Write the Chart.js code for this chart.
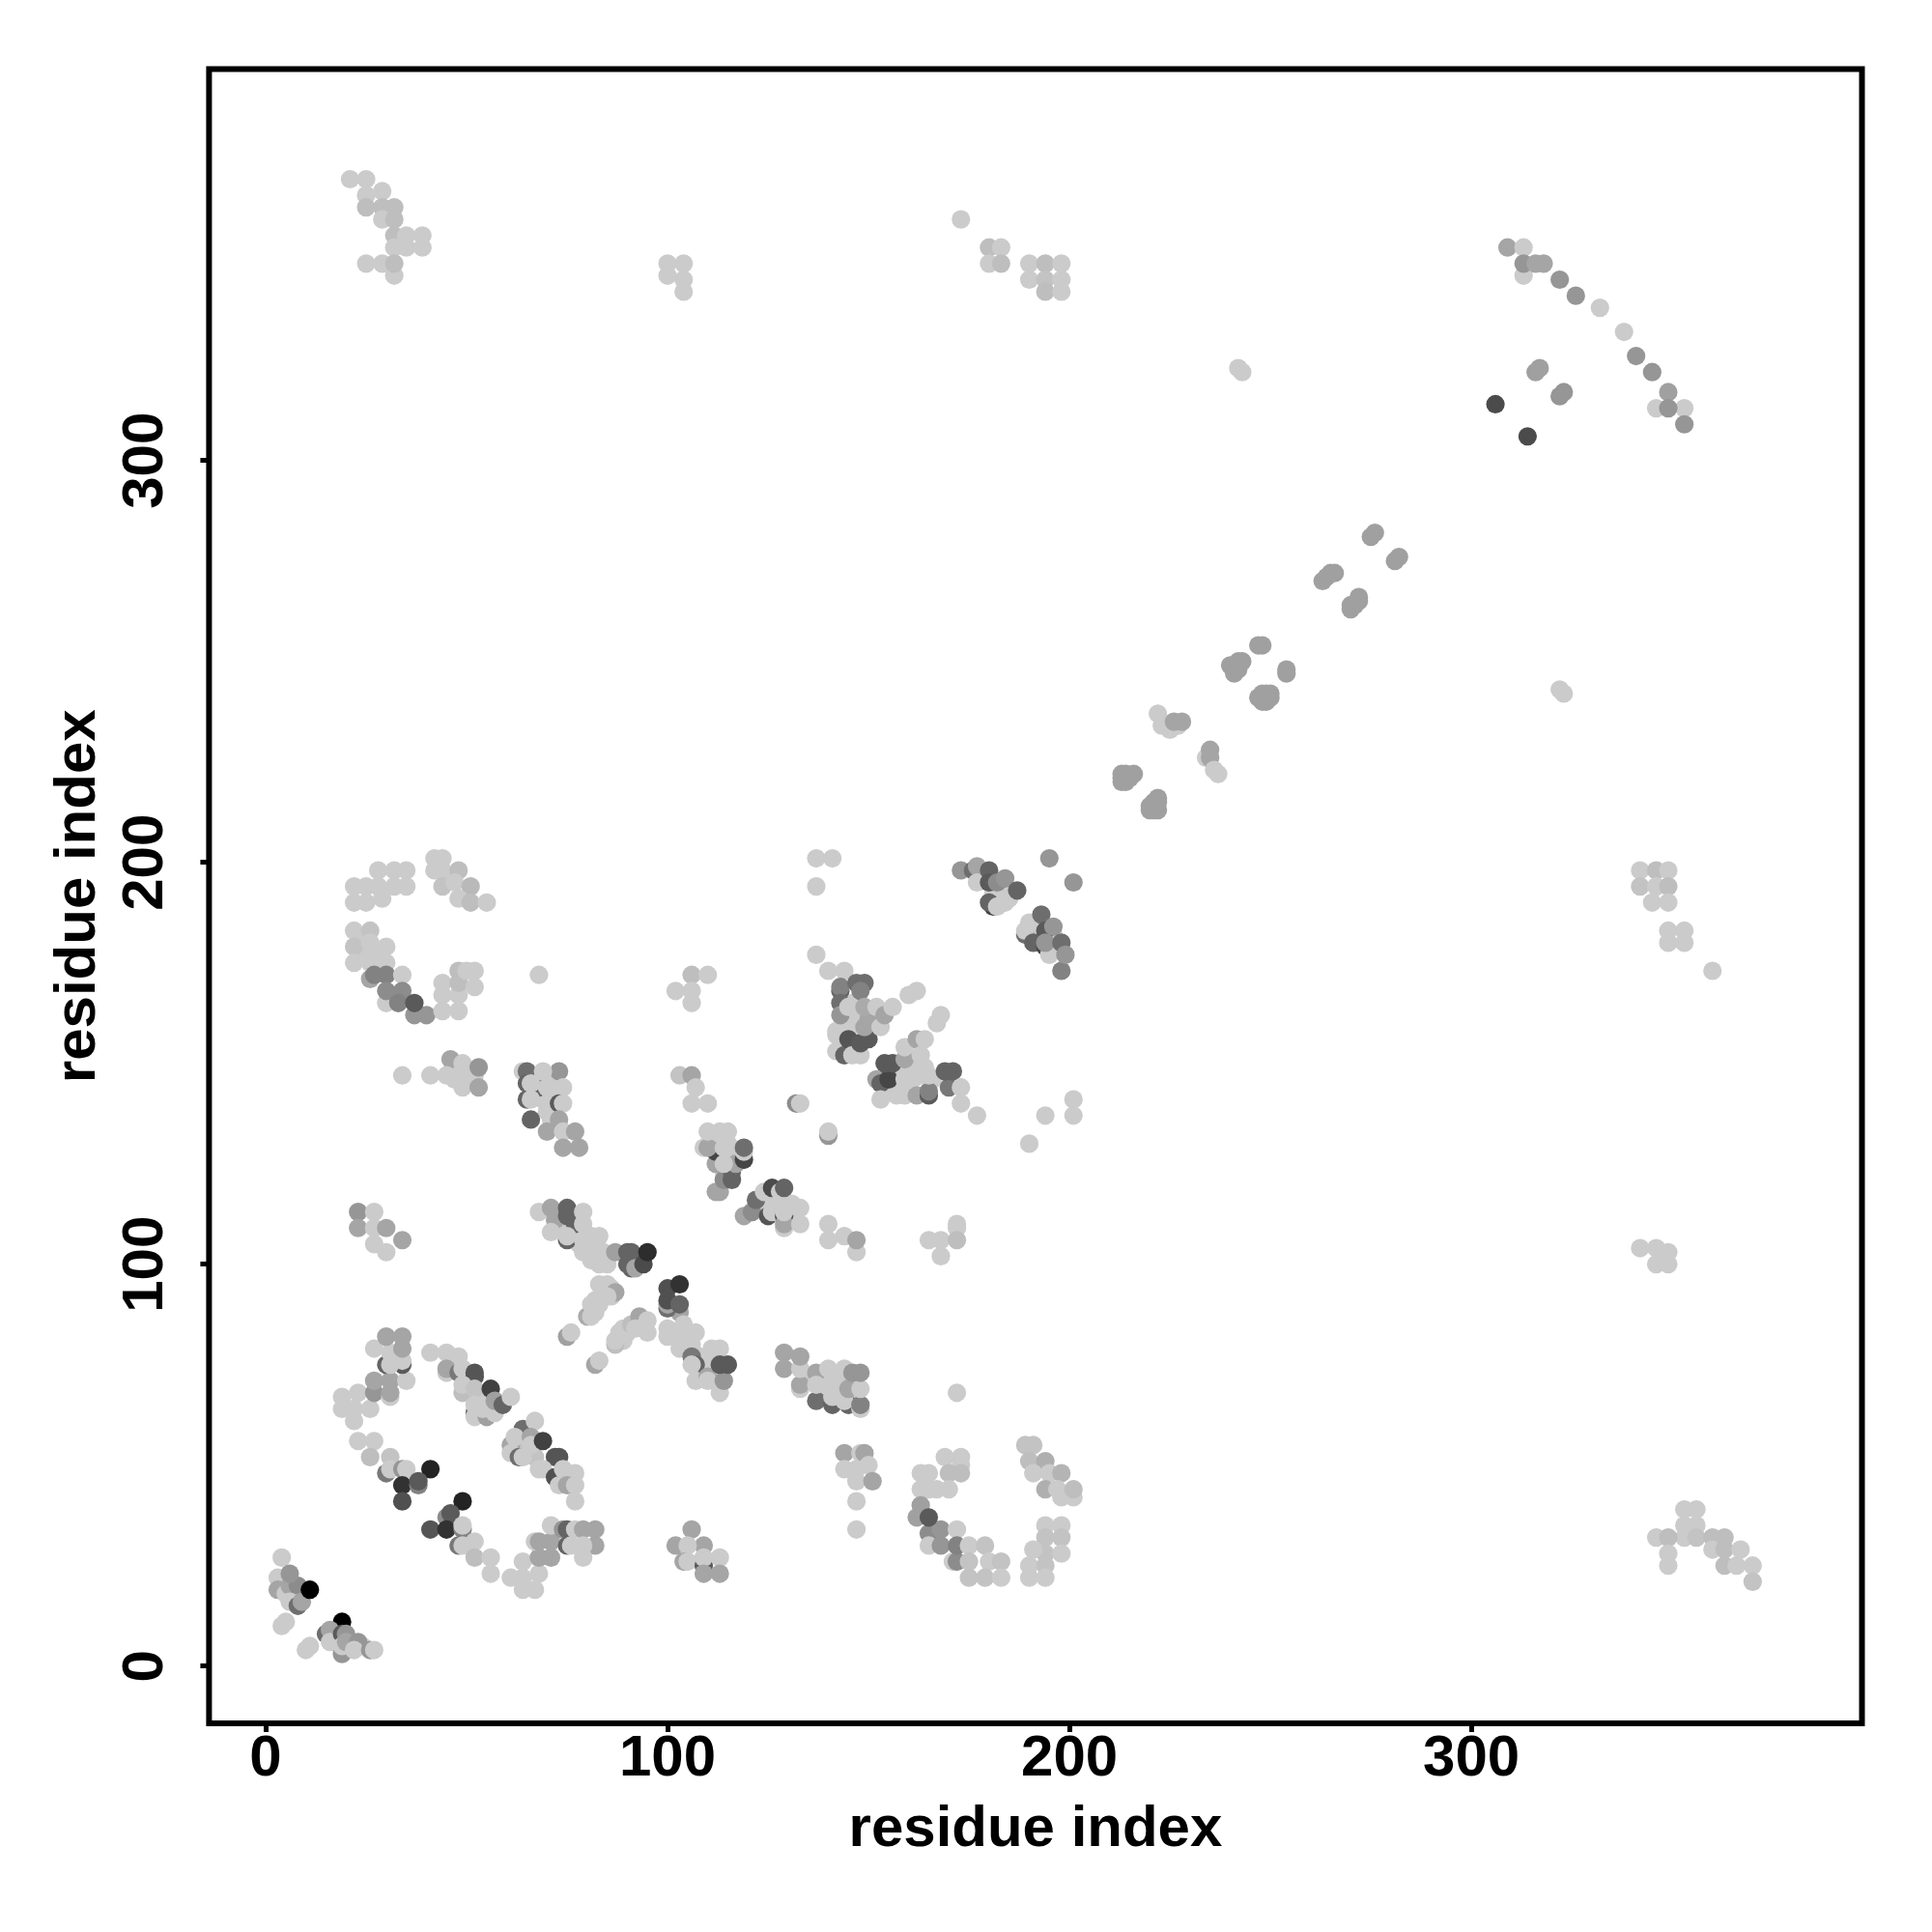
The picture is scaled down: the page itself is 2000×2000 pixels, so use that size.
<!DOCTYPE html>
<html>
<head>
<meta charset="utf-8">
<title>residue contact map</title>
<script src="https://cdn.jsdelivr.net/npm/chart.js@4"></script>
<style>
  html, body { margin: 0; padding: 0; background: #fff; }
  canvas { display: block; }
</style>
</head>
<body>
<canvas id="chart" width="2000" height="2000"></canvas>
<script>
// tick labels, same on both axes
const tickValues = [0, 100, 200, 300];

// contacts (same line = same cluster in all three lists)
const residueX = [
  // pale points that sit under the dense clusters
  5,7,17,21,24,
  53,54,55,53,55,56,
  64,65,63,66,67,65,
  102,103,105,108,109,108,110,111,110,
  73,74,77,78,81,81,82,84,85,
  84,86,86,83,82,89,89,90,93,94,
  139,142,139,143,144,143,146,136,
  146,147,146,147,150,152,151,148,147,144,
  161,161,160,164,166,158,155,157,
  112,113,115,114,115,116,
  124,127,127,131,131,
  181,183,182,185,184,190,191,192,192,196,196,
  67,68,68,69,71,70,71,72,71,72,
  47,50,51,47,
  26,28,24,24,
  // the rest
  4,3,3,5,6,8,6,6,8,9,11,4,5,
  10,11,19,15,16,16,19,20,19,19,20,23,22,26,27,
  23,27,26,31,30,31,34,35,41,34,34,38,38,
  49,45,46,41,45,49,49,48,49,52,52,56,56,
  61,64,64,64,67,68,68,71,67,68,71,71,74,75,75,76,77,79,82,82,79,79,
  19,23,19,22,26,22,27,31,31,27,31,35,30,34,31,34,27,31,34,30,34,
  41,45,48,45,45,48,49,52,52,49,49,52,56,52,52,52,55,54,57,57,59,61,
  64,67,61,62,66,61,63,64,66,69,72,73,68,69,72,74,77,73,75,77,77,
  106,102,109,105,104,105,109,109,113,109,113,
  144,148,149,144,150,147,147,151,147,147,
  169,173,173,170,173,163,165,163,165,167,170,163,162,165,165,168,168,172,165,171,172,172,175,179,175,180,183,175,179,183,
  189,191,190,194,191,195,198,194,197,198,201,201,194,198,194,198,194,198,191,190,194,190,194,
  353,356,353,356,353,356,346,349,349,349,360,360,363,363,363,366,367,370,370,
  68,71,72,71,75,75,77,79,79,75,75,79,79,83,81,83,83,85,
  87,90,91,90,91,92,94,95,
  83,85,87,85,80,81,82,81,75,76,82,83,87,87,88,91,93,92,95,95,
  103,100,100,100,103,100,103,
  100,100,104,103,107,106,106,107,106,107,110,110,111,113,113,114,113,115,
  129,129,133,133,133,133,137,141,137,137,140,144,141,141,145,144,145,148,148,148,146,148,
  103,106,107,106,110,132,133,140,140,
  112,113,114,116,116,112,117,112,109,110,114,114,110,113,115,119,119,119,
  119,121,122,125,124,126,126,129,129,129,129,128,129,133,133,
  140,140,144,147,147,165,168,168,172,172,172,
  140,144,143,143,147,149,148,142,142,142,143,143,144,145,145,146,148,150,149,150,149,152,153,154,156,
  160,162,168,167,152,153,153,157,159,155,154,156,159,159,159,162,165,165,162,163,164,163,165,170,169,171,173,173,177,
  173,176,177,177,180,181,180,182,184,180,182,184,187,
  189,189,191,193,194,196,194,195,194,198,198,199,
  195,201,201,201,194,190,137,141,137,137,68,
  28,32,35,22,25,28,32,35,22,25,29,42,44,42,44,48,44,47,51,48,51,55,
  22,26,22,26,30,22,26,30,26,27,30,34,30,30,34,33,37,40,37,44,44,44,48,48,48,48,50,52,52,
  106,110,102,106,106,
  34,41,46,45,49,49,49,52,53,53,
  64,65,65,65,68,73,69,66,70,66,70,74,73,74,66,73,70,74,77,74,78,
  23,27,23,27,30,27,30,34,
  21,25,25,29,25,29,32,29,32,32,35,39,32,35,39,25,29,32,32,
  100,104,100,104,104,173,180,183,180,183,190,194,198,190,194,198,194,198,
  309,313,313,313,316,318,322,326,332,338,341,345,346,353,349,349,353,316,317,322,323,306,314,
  275,276,281,282,263,264,265,266,270,271,272,270,272,247,248,254,254,240,241,241,242,243,242,247,248,249,249,250,250,248,213,213,213,214,216,215,214,220,220,221,222,222,222,221,
  222,225,223,227,226,228,234,235,235,236,237,
  242,243,322,323,172,
  342,346,346,349,349,342,346,349,342,346,349,345,349,349,353,349,353,360
];
const residueY = [
  20,18,6,5,5,
  67,66,65,63,64,63,
  55,54,55,53,52,56,
  83,82,81,77,74,72,74,75,77,
  109,109,107,105,101,107,102,103,102,
  94,94,92,90,91,81,84,83,85,84,
  72,72,68,68,71,70,68,71,
  160,157,165,163,158,160,162,152,154,160,
  150,146,148,149,146,144,144,149,
  131,127,127,123,130,128,
  114,115,117,112,115,
  192,192,191,191,193,185,184,183,181,179,182,
  146,146,142,141,142,138,136,142,146,145,
  148,146,148,146,
  178,177,177,181,
  27,22,19,18,20,20,23,16,15,16,19,10,11,
  4,5,11,8,9,6,8,8,3,5,6,6,4,4,4,
  56,56,52,52,48,49,49,49,49,45,41,45,46,
  41,37,38,34,34,34,35,30,30,31,27,27,23,
  22,26,22,19,19,23,27,27,31,31,31,35,34,34,30,30,34,34,34,30,30,27,
  67,68,64,64,64,61,68,67,68,71,71,71,75,75,75,76,79,78,79,82,82,
  78,78,77,73,74,73,74,72,73,68,70,69,69,63,62,65,62,64,63,66,65,67,
  59,61,55,57,57,53,52,52,55,56,52,52,49,49,47,49,48,45,45,45,41,
  34,30,30,30,26,26,25,27,27,23,23,
  53,53,53,49,50,49,46,46,41,34,
  52,52,50,48,48,48,48,44,44,44,44,40,37,33,30,34,30,34,37,26,26,30,30,30,26,26,26,22,22,22,
  55,55,51,51,48,48,48,44,44,42,42,44,35,35,32,32,28,28,29,25,25,22,22,
  39,39,35,35,32,32,32,32,28,25,32,29,32,29,25,25,29,25,21,
  113,114,111,108,112,114,110,113,110,106,107,106,103,107,104,103,100,100,
  103,103,103,100,99,99,100,103,
  95,95,93,92,87,90,88,87,82,83,75,76,80,81,83,85,87,84,86,83,
  88,89,90,91,90,94,95,
  84,82,85,79,83,80,77,75,75,71,72,71,79,79,68,71,75,75,
  78,74,69,70,74,77,66,65,73,70,74,74,70,67,65,66,69,64,65,69,73,73,
  147,147,144,140,140,140,140,132,133,
  118,118,121,121,123,125,125,128,129,129,125,129,133,133,133,126,128,129,
  112,113,116,112,118,119,113,112,109,110,113,118,119,114,110,
  110,106,107,103,106,106,106,102,110,109,106,
  173,173,168,169,170,170,168,158,157,153,165,162,152,156,164,152,155,156,159,161,164,164,159,162,164,
  167,168,162,160,146,145,141,142,142,146,150,150,146,151,154,142,142,143,156,152,156,147,147,144,148,148,144,140,137,
  198,198,199,195,198,189,190,189,190,195,195,196,193,
  182,183,180,187,183,184,179,177,180,173,180,177,
  201,195,141,137,137,130,201,201,194,177,172,
  198,198,198,194,194,194,194,194,190,190,191,201,201,198,198,198,194,195,194,191,190,190,
  183,183,179,180,179,175,175,175,171,172,172,172,165,168,168,165,162,162,165,170,167,163,163,167,173,170,173,173,169,
  172,172,168,168,165,
  147,147,151,147,150,147,144,147,149,144,
  148,148,145,141,144,148,148,145,144,141,140,144,140,140,136,136,133,133,133,129,129,
  113,113,109,109,109,105,103,106,
  370,370,366,367,363,363,363,360,360,356,356,356,353,353,353,349,349,346,349,
  349,349,346,345,342,360,353,353,349,349,349,349,349,345,345,345,342,342,
  353,353,346,349,349,349,345,341,338,332,326,322,313,313,317,313,309,322,323,316,317,314,306,
  281,282,275,276,270,271,272,272,263,264,266,264,265,254,254,247,248,249,247,249,250,250,248,241,240,240,242,242,241,242,220,221,222,222,222,221,220,213,214,213,213,215,216,215,
  237,233,234,234,235,235,226,228,226,223,222,
  323,322,243,242,68,
  104,104,100,103,100,198,198,198,194,194,194,190,190,183,183,180,180,173
];
const contactGrey = [
  203,203,203,203,203,
  203,203,203,203,203,203,
  195,195,195,195,195,195,
  203,203,203,203,203,203,203,203,203,
  203,203,203,203,203,203,203,203,203,
  203,203,203,203,203,203,203,203,203,203,
  203,203,203,203,203,203,203,203,
  203,203,203,203,203,203,203,203,203,203,
  203,203,203,203,203,203,203,203,
  203,203,203,203,203,203,
  203,203,203,203,203,
  203,203,203,203,203,203,203,203,203,203,203,
  203,203,203,203,203,203,203,203,203,203,
  203,203,203,203,
  203,203,203,203,
  203,203,165,203,165,140,150,203,110,165,0,203,203,
  203,203,0,110,165,203,90,150,150,203,165,150,203,150,203,
  203,203,190,195,120,203,150,203,35,50,80,130,90,
  35,140,90,85,50,130,203,120,203,203,190,203,203,
  203,203,203,203,203,203,165,165,203,165,165,203,150,100,100,203,203,165,165,165,203,203,
  203,203,203,203,203,203,150,203,165,165,165,203,100,90,203,203,203,203,165,165,165,
  203,203,203,203,165,120,203,85,85,190,203,195,65,110,203,203,160,203,203,160,100,203,
  110,203,165,203,165,203,110,203,203,65,85,85,203,203,80,203,203,203,165,203,203,
  165,165,165,203,165,203,90,203,203,165,165,
  165,203,165,203,203,203,203,165,203,203,
  203,203,203,190,190,203,203,203,203,203,203,160,160,140,203,150,150,203,90,203,140,130,203,195,195,203,195,195,195,203,
  195,195,190,175,203,203,180,175,203,203,203,190,203,203,195,195,195,203,203,203,195,203,203,
  203,203,203,203,203,195,203,190,203,203,190,203,190,190,190,203,203,203,195,
  203,165,165,203,100,100,100,203,203,100,203,203,203,203,203,203,203,203,
  160,100,100,100,100,165,75,45,
  203,203,165,203,170,203,203,203,160,203,165,203,190,203,203,190,165,203,203,203,
  165,110,165,80,100,80,50,
  203,203,203,203,203,203,120,100,203,203,165,203,203,203,203,150,90,90,
  165,165,203,165,203,165,110,100,165,203,203,203,203,203,100,203,165,203,130,203,150,150,
  195,165,203,203,203,140,203,150,203,
  165,165,140,100,100,165,165,70,203,165,203,203,203,203,203,70,203,110,
  165,140,110,85,203,75,203,70,203,165,203,203,100,203,203,
  203,203,203,203,165,203,203,203,203,203,190,
  203,203,100,130,110,110,130,203,203,203,110,150,100,85,203,203,90,90,165,165,170,203,203,165,203,
  203,203,203,203,165,100,203,203,203,70,90,90,203,165,203,165,90,130,165,203,203,203,203,120,100,100,203,203,203,
  150,110,165,203,100,70,100,203,203,90,140,150,100,
  110,203,100,110,90,150,70,203,150,130,110,150,
  150,150,203,203,203,203,203,203,203,203,203,
  203,203,203,203,203,203,203,203,203,203,203,203,203,203,203,190,195,203,185,203,190,203,
  203,195,195,203,203,203,203,203,165,130,130,203,203,140,140,130,150,150,90,203,203,203,203,203,190,190,203,203,203,
  190,203,203,203,203,
  203,203,165,203,203,203,203,203,150,165,
  203,110,100,100,100,150,203,203,203,203,203,203,90,203,100,165,165,203,165,165,165,
  150,203,165,203,165,203,203,165,
  203,203,203,203,190,190,190,203,190,190,203,203,203,203,203,203,203,203,190,
  203,203,203,203,203,203,190,203,203,190,203,190,203,203,195,203,190,203,
  165,203,203,150,165,165,150,150,203,203,150,150,203,203,160,150,150,160,160,150,150,75,75,
  160,160,160,160,160,160,160,160,160,160,160,160,160,160,160,160,160,160,160,160,160,160,160,160,160,160,160,160,160,160,160,160,160,160,160,160,160,160,160,160,160,160,160,160,
  203,203,203,203,165,165,203,165,165,203,203,
  203,203,203,203,203,
  203,203,203,203,203,203,190,203,195,203,190,203,203,203,203,203,203,203
];

const axisFont = { family: "'Liberation Sans', Arial, sans-serif", size: 60, weight: "bold" };

// box() round the plot, the way R draws it
const plotBox = {
  id: "plotBox",
  afterDraw(chart) {
    const { ctx, chartArea: a } = chart;
    ctx.save();
    ctx.strokeStyle = "#000";
    ctx.lineWidth = 6;
    ctx.lineJoin = "miter";
    ctx.strokeRect(a.left, a.top, a.right - a.left, a.bottom - a.top);
    ctx.restore();
  },
};

function axisOptions(min, max, fitSize, tickPad, titlePad) {
  return {
    type: "linear",
    min,
    max,
    afterBuildTicks(scale) {
      scale.ticks = tickValues.map(value => ({ value }));
    },
    afterFit(scale) {
      if (scale.isHorizontal()) scale.height = fitSize;
      else scale.width = fitSize;
    },
    border: { display: false },
    grid: { drawOnChartArea: false, drawTicks: true, tickLength: 9, tickWidth: 5, tickColor: "#000" },
    ticks: {
      autoSkip: false,
      includeBounds: false,
      color: "#000",
      font: axisFont,
      padding: tickPad,
      callback: v => String(v),
    },
    title: { display: true, text: "residue index", color: "#000", font: axisFont, padding: titlePad },
  };
}

const xAxis = axisOptions(-14.09, 397.2, 216, -8, { top: 0, bottom: 70 });
const yAxis = axisOptions(-14.25, 397.4, 216.4, 6, { top: 45, bottom: 0 });
yAxis.ticks.minRotation = 90;
yAxis.ticks.maxRotation = 90;
yAxis.ticks.crossAlign = "center";

new Chart(document.getElementById("chart"), {
  type: "scatter",
  data: {
    datasets: [{
      data: residueX.map((x, i) => ({ x, y: residueY[i] })),
      backgroundColor: contactGrey.map(g => `rgb(${g},${g},${g})`),
      borderWidth: 0,
      pointRadius: 9.6,
    }],
  },
  options: {
    responsive: false,
    animation: false,
    layout: { padding: { top: 71.5, right: 72.5, left: 0, bottom: 0 } },
    plugins: { legend: { display: false }, tooltip: { enabled: false } },
    scales: { x: xAxis, y: yAxis },
  },
  plugins: [plotBox],
});
</script>
</body>
</html>
